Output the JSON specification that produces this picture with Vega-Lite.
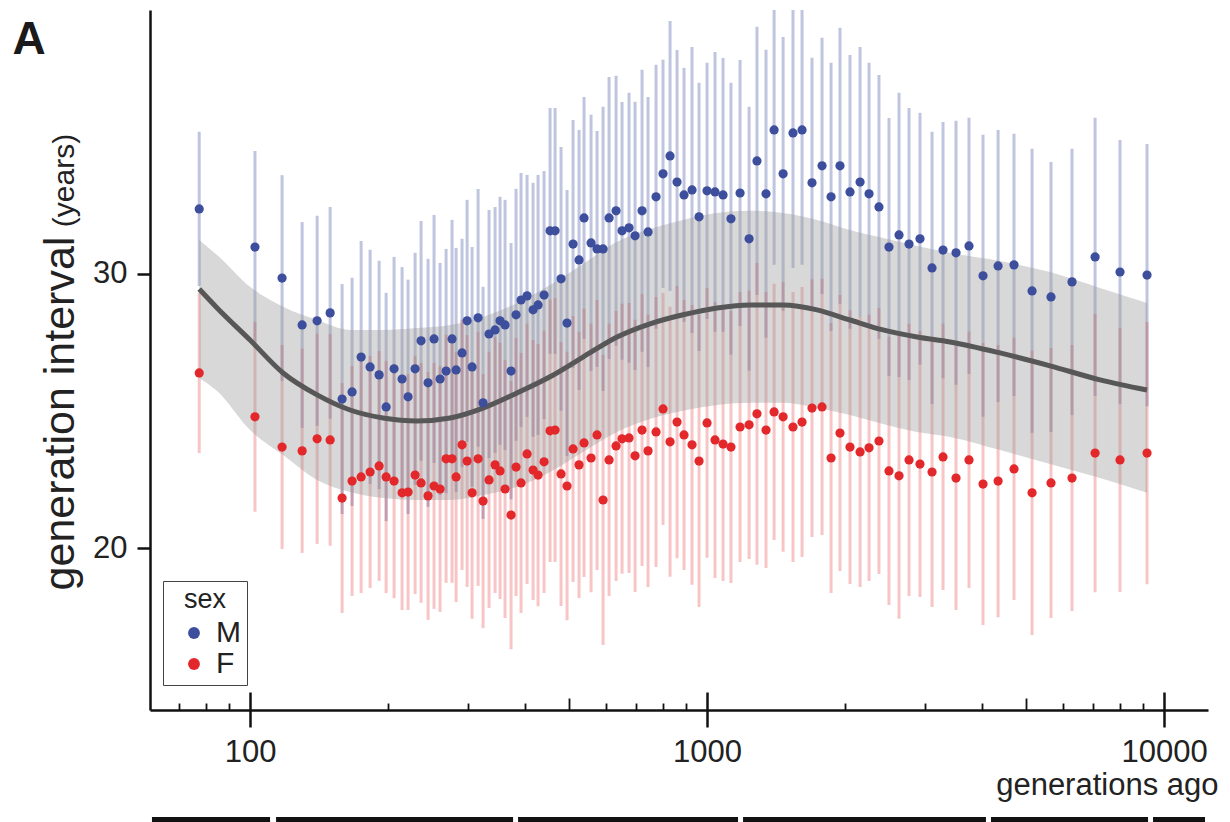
{
"$schema": "https://vega.github.io/schema/vega-lite/v6.json",
"width": 1058, "height": 700,
"autosize": {"type": "none"},
"padding": {"left": 150, "top": 10, "right": 22, "bottom": 112},
"background": "white",
"config": {"view": {"stroke": null}, "font": "Liberation Sans"},
"datasets": {
"pts": [
{"g":77.4,"sex":"M","v":32.37,"lo":29.56,"hi":35.18},
{"g":102.5,"sex":"M","v":30.98,"lo":27.48,"hi":34.48},
{"g":117.5,"sex":"M","v":29.85,"lo":26.10,"hi":33.60},
{"g":130.0,"sex":"M","v":28.14,"lo":24.39,"hi":31.89},
{"g":140.2,"sex":"M","v":28.29,"lo":24.46,"hi":32.12},
{"g":149.7,"sex":"M","v":28.58,"lo":24.72,"hi":32.44},
{"g":159.0,"sex":"M","v":25.44,"lo":21.25,"hi":29.63},
{"g":167.2,"sex":"M","v":25.70,"lo":21.54,"hi":29.86},
{"g":175.0,"sex":"M","v":26.97,"lo":22.74,"hi":31.20},
{"g":183.1,"sex":"M","v":26.61,"lo":22.34,"hi":30.88},
{"g":191.6,"sex":"M","v":26.32,"lo":22.16,"hi":30.48},
{"g":198.5,"sex":"M","v":25.15,"lo":20.99,"hi":29.31},
{"g":206.6,"sex":"M","v":26.54,"lo":22.46,"hi":30.62},
{"g":215.1,"sex":"M","v":26.17,"lo":22.09,"hi":30.25},
{"g":221.7,"sex":"M","v":25.52,"lo":21.25,"hi":29.79},
{"g":229.7,"sex":"M","v":26.54,"lo":22.31,"hi":30.77},
{"g":236.7,"sex":"M","v":27.56,"lo":23.19,"hi":31.93},
{"g":245.2,"sex":"M","v":26.03,"lo":21.51,"hi":30.55},
{"g":252.7,"sex":"M","v":27.63,"lo":23.11,"hi":32.15},
{"g":260.5,"sex":"M","v":26.17,"lo":21.94,"hi":30.40},
{"g":268.5,"sex":"M","v":26.46,"lo":22.01,"hi":30.91},
{"g":276.7,"sex":"M","v":27.63,"lo":23.29,"hi":31.97},
{"g":282.4,"sex":"M","v":26.50,"lo":22.05,"hi":30.95},
{"g":291.0,"sex":"M","v":27.12,"lo":22.96,"hi":31.28},
{"g":298.5,"sex":"M","v":28.29,"lo":23.88,"hi":32.70},
{"g":306.1,"sex":"M","v":26.61,"lo":22.24,"hi":30.98},
{"g":315.5,"sex":"M","v":28.40,"lo":23.70,"hi":33.10},
{"g":323.5,"sex":"M","v":25.30,"lo":21.07,"hi":29.53},
{"g":333.4,"sex":"M","v":27.81,"lo":23.29,"hi":32.33},
{"g":343.7,"sex":"M","v":27.96,"lo":23.48,"hi":32.44},
{"g":352.4,"sex":"M","v":28.29,"lo":23.77,"hi":32.81},
{"g":361.4,"sex":"M","v":28.14,"lo":23.58,"hi":32.70},
{"g":372.5,"sex":"M","v":26.46,"lo":21.79,"hi":31.13},
{"g":382.0,"sex":"M","v":28.51,"lo":23.92,"hi":33.10},
{"g":391.7,"sex":"M","v":29.05,"lo":24.42,"hi":33.68},
{"g":403.8,"sex":"M","v":29.20,"lo":24.79,"hi":33.61},
{"g":416.2,"sex":"M","v":28.69,"lo":24.06,"hi":33.32},
{"g":426.8,"sex":"M","v":28.87,"lo":24.13,"hi":33.61},
{"g":439.9,"sex":"M","v":29.23,"lo":24.71,"hi":33.75},
{"g":453.4,"sex":"M","v":31.57,"lo":27.09,"hi":36.05},
{"g":465.0,"sex":"M","v":31.57,"lo":27.09,"hi":36.05},
{"g":479.2,"sex":"M","v":29.82,"lo":25.01,"hi":34.63},
{"g":493.9,"sex":"M","v":28.21,"lo":23.36,"hi":33.06},
{"g":509.1,"sex":"M","v":31.09,"lo":26.57,"hi":35.61},
{"g":524.7,"sex":"M","v":30.51,"lo":25.77,"hi":35.25},
{"g":538.1,"sex":"M","v":32.04,"lo":27.63,"hi":36.45},
{"g":557.4,"sex":"M","v":31.13,"lo":26.46,"hi":35.80},
{"g":574.5,"sex":"M","v":30.91,"lo":26.61,"hi":35.21},
{"g":592.2,"sex":"M","v":30.91,"lo":25.73,"hi":36.09},
{"g":610.4,"sex":"M","v":32.04,"lo":26.90,"hi":37.18},
{"g":632.3,"sex":"M","v":32.30,"lo":27.38,"hi":37.22},
{"g":651.6,"sex":"M","v":31.57,"lo":26.87,"hi":36.27},
{"g":675.0,"sex":"M","v":31.68,"lo":26.76,"hi":36.60},
{"g":695.8,"sex":"M","v":31.39,"lo":26.50,"hi":36.28},
{"g":720.7,"sex":"M","v":32.30,"lo":27.16,"hi":37.44},
{"g":742.8,"sex":"M","v":31.53,"lo":26.61,"hi":36.45},
{"g":773.4,"sex":"M","v":32.81,"lo":28.00,"hi":37.62},
{"g":801.1,"sex":"M","v":33.65,"lo":29.49,"hi":37.81},
{"g":829.9,"sex":"M","v":34.30,"lo":29.38,"hi":39.22},
{"g":859.7,"sex":"M","v":33.35,"lo":28.54,"hi":38.16},
{"g":890.5,"sex":"M","v":32.88,"lo":28.25,"hi":37.51},
{"g":927.1,"sex":"M","v":33.06,"lo":27.85,"hi":38.27},
{"g":960.5,"sex":"M","v":32.08,"lo":27.19,"hi":36.97},
{"g":1000,"sex":"M","v":33.03,"lo":28.36,"hi":37.70},
{"g":1041,"sex":"M","v":32.99,"lo":27.89,"hi":38.09},
{"g":1084,"sex":"M","v":32.88,"lo":27.89,"hi":37.87},
{"g":1128,"sex":"M","v":32.01,"lo":27.05,"hi":36.97},
{"g":1181,"sex":"M","v":32.95,"lo":28.10,"hi":37.80},
{"g":1236,"sex":"M","v":31.28,"lo":26.47,"hi":36.09},
{"g":1286,"sex":"M","v":34.12,"lo":29.23,"hi":39.01},
{"g":1346,"sex":"M","v":32.92,"lo":27.67,"hi":38.17},
{"g":1402,"sex":"M","v":35.25,"lo":30.33,"hi":40.17},
{"g":1467,"sex":"M","v":33.65,"lo":28.66,"hi":38.64},
{"g":1542,"sex":"M","v":35.14,"lo":30.22,"hi":40.06},
{"g":1614,"sex":"M","v":35.25,"lo":30.33,"hi":40.17},
{"g":1697,"sex":"M","v":33.32,"lo":28.76,"hi":37.88},
{"g":1785,"sex":"M","v":33.94,"lo":29.27,"hi":38.61},
{"g":1868,"sex":"M","v":32.81,"lo":27.92,"hi":37.70},
{"g":1954,"sex":"M","v":33.94,"lo":28.91,"hi":38.97},
{"g":2055,"sex":"M","v":32.99,"lo":28.00,"hi":37.98},
{"g":2162,"sex":"M","v":33.35,"lo":28.43,"hi":38.27},
{"g":2262,"sex":"M","v":32.92,"lo":28.14,"hi":37.70},
{"g":2378,"sex":"M","v":32.44,"lo":27.63,"hi":37.25},
{"g":2501,"sex":"M","v":30.98,"lo":26.28,"hi":35.68},
{"g":2631,"sex":"M","v":31.42,"lo":26.24,"hi":36.60},
{"g":2767,"sex":"M","v":31.09,"lo":26.13,"hi":36.05},
{"g":2924,"sex":"M","v":31.28,"lo":26.69,"hi":35.87},
{"g":3107,"sex":"M","v":30.22,"lo":25.26,"hi":35.18},
{"g":3284,"sex":"M","v":30.87,"lo":26.20,"hi":35.54},
{"g":3506,"sex":"M","v":30.77,"lo":25.96,"hi":35.58},
{"g":3743,"sex":"M","v":31.02,"lo":26.35,"hi":35.69},
{"g":4017,"sex":"M","v":29.93,"lo":24.79,"hi":35.07},
{"g":4334,"sex":"M","v":30.29,"lo":25.33,"hi":35.25},
{"g":4696,"sex":"M","v":30.33,"lo":25.55,"hi":35.11},
{"g":5143,"sex":"M","v":29.38,"lo":24.20,"hi":34.56},
{"g":5658,"sex":"M","v":29.16,"lo":24.24,"hi":34.08},
{"g":6290,"sex":"M","v":29.71,"lo":24.86,"hi":34.56},
{"g":7065,"sex":"M","v":30.62,"lo":25.55,"hi":35.69},
{"g":8011,"sex":"M","v":30.07,"lo":25.26,"hi":34.88},
{"g":9179,"sex":"M","v":29.96,"lo":25.18,"hi":34.74},
{"g":77.4,"sex":"F","v":26.39,"lo":23.47,"hi":29.31},
{"g":102.5,"sex":"F","v":24.79,"lo":21.33,"hi":28.25},
{"g":117.5,"sex":"F","v":23.69,"lo":19.97,"hi":27.41},
{"g":130.0,"sex":"F","v":23.55,"lo":19.83,"hi":27.27},
{"g":140.2,"sex":"F","v":23.99,"lo":20.16,"hi":27.82},
{"g":149.7,"sex":"F","v":23.95,"lo":20.09,"hi":27.81},
{"g":159.0,"sex":"F","v":21.83,"lo":17.64,"hi":26.02},
{"g":167.2,"sex":"F","v":22.45,"lo":18.26,"hi":26.64},
{"g":175.0,"sex":"F","v":22.60,"lo":18.37,"hi":26.83},
{"g":183.1,"sex":"F","v":22.78,"lo":18.55,"hi":27.01},
{"g":191.6,"sex":"F","v":23.00,"lo":18.81,"hi":27.19},
{"g":198.5,"sex":"F","v":22.60,"lo":18.37,"hi":26.83},
{"g":206.6,"sex":"F","v":22.45,"lo":18.18,"hi":26.72},
{"g":215.1,"sex":"F","v":22.02,"lo":17.75,"hi":26.29},
{"g":221.7,"sex":"F","v":22.05,"lo":17.75,"hi":26.35},
{"g":229.7,"sex":"F","v":22.67,"lo":18.33,"hi":27.01},
{"g":236.7,"sex":"F","v":22.38,"lo":18.01,"hi":26.75},
{"g":245.2,"sex":"F","v":21.91,"lo":17.39,"hi":26.43},
{"g":252.7,"sex":"F","v":22.27,"lo":17.79,"hi":26.75},
{"g":260.5,"sex":"F","v":22.16,"lo":17.68,"hi":26.64},
{"g":268.5,"sex":"F","v":23.26,"lo":18.74,"hi":27.78},
{"g":276.7,"sex":"F","v":23.26,"lo":18.74,"hi":27.78},
{"g":282.4,"sex":"F","v":22.60,"lo":18.04,"hi":27.16},
{"g":291.0,"sex":"F","v":23.77,"lo":19.21,"hi":28.33},
{"g":298.5,"sex":"F","v":23.18,"lo":18.59,"hi":27.77},
{"g":306.1,"sex":"F","v":22.02,"lo":17.43,"hi":26.61},
{"g":315.5,"sex":"F","v":23.26,"lo":18.63,"hi":27.89},
{"g":323.5,"sex":"F","v":21.72,"lo":17.09,"hi":26.35},
{"g":333.4,"sex":"F","v":22.49,"lo":17.82,"hi":27.16},
{"g":343.7,"sex":"F","v":23.04,"lo":18.37,"hi":27.71},
{"g":352.4,"sex":"F","v":22.82,"lo":18.15,"hi":27.49},
{"g":361.4,"sex":"F","v":22.16,"lo":17.46,"hi":26.86},
{"g":372.5,"sex":"F","v":21.21,"lo":16.32,"hi":26.10},
{"g":382.0,"sex":"F","v":22.96,"lo":18.26,"hi":27.66},
{"g":391.7,"sex":"F","v":22.38,"lo":17.64,"hi":27.12},
{"g":403.8,"sex":"F","v":23.44,"lo":18.70,"hi":28.18},
{"g":416.2,"sex":"F","v":22.85,"lo":18.11,"hi":27.59},
{"g":426.8,"sex":"F","v":22.67,"lo":17.89,"hi":27.45},
{"g":439.9,"sex":"F","v":23.15,"lo":18.37,"hi":27.93},
{"g":453.4,"sex":"F","v":24.28,"lo":19.50,"hi":29.06},
{"g":465.0,"sex":"F","v":24.31,"lo":19.50,"hi":29.12},
{"g":479.2,"sex":"F","v":22.71,"lo":17.90,"hi":27.52},
{"g":493.9,"sex":"F","v":22.27,"lo":17.38,"hi":27.16},
{"g":509.1,"sex":"F","v":23.62,"lo":18.77,"hi":28.47},
{"g":524.7,"sex":"F","v":23.04,"lo":18.19,"hi":27.89},
{"g":538.1,"sex":"F","v":23.84,"lo":18.95,"hi":28.73},
{"g":557.4,"sex":"F","v":23.29,"lo":18.40,"hi":28.18},
{"g":574.5,"sex":"F","v":24.13,"lo":19.21,"hi":29.05},
{"g":592.2,"sex":"F","v":21.76,"lo":16.47,"hi":27.05},
{"g":610.4,"sex":"F","v":23.22,"lo":18.26,"hi":28.18},
{"g":632.3,"sex":"F","v":23.73,"lo":18.81,"hi":28.65},
{"g":651.6,"sex":"F","v":23.99,"lo":19.07,"hi":28.91},
{"g":675.0,"sex":"F","v":24.02,"lo":19.10,"hi":28.94},
{"g":695.8,"sex":"F","v":23.37,"lo":18.41,"hi":28.33},
{"g":720.7,"sex":"F","v":24.31,"lo":19.35,"hi":29.27},
{"g":742.8,"sex":"F","v":23.55,"lo":18.59,"hi":28.51},
{"g":773.4,"sex":"F","v":24.24,"lo":19.32,"hi":29.16},
{"g":801.1,"sex":"F","v":25.08,"lo":20.85,"hi":29.31},
{"g":829.9,"sex":"F","v":23.88,"lo":18.96,"hi":28.80},
{"g":859.7,"sex":"F","v":24.60,"lo":19.64,"hi":29.56},
{"g":890.5,"sex":"F","v":24.13,"lo":19.21,"hi":29.05},
{"g":927.1,"sex":"F","v":23.77,"lo":18.67,"hi":28.87},
{"g":960.5,"sex":"F","v":23.18,"lo":17.86,"hi":28.50},
{"g":1000,"sex":"F","v":24.57,"lo":19.65,"hi":29.49},
{"g":1041,"sex":"F","v":23.95,"lo":18.92,"hi":28.98},
{"g":1084,"sex":"F","v":23.80,"lo":18.81,"hi":28.79},
{"g":1128,"sex":"F","v":23.69,"lo":18.73,"hi":28.65},
{"g":1181,"sex":"F","v":24.42,"lo":19.50,"hi":29.34},
{"g":1236,"sex":"F","v":24.50,"lo":19.61,"hi":29.39},
{"g":1286,"sex":"F","v":24.90,"lo":19.40,"hi":30.40},
{"g":1346,"sex":"F","v":24.31,"lo":19.28,"hi":29.34},
{"g":1402,"sex":"F","v":24.97,"lo":20.30,"hi":29.64},
{"g":1467,"sex":"F","v":24.79,"lo":19.87,"hi":29.71},
{"g":1542,"sex":"F","v":24.42,"lo":19.50,"hi":29.34},
{"g":1614,"sex":"F","v":24.60,"lo":19.68,"hi":29.52},
{"g":1697,"sex":"F","v":25.11,"lo":20.41,"hi":29.81},
{"g":1785,"sex":"F","v":25.15,"lo":20.48,"hi":29.82},
{"g":1868,"sex":"F","v":23.29,"lo":18.37,"hi":28.21},
{"g":1954,"sex":"F","v":24.20,"lo":19.17,"hi":29.23},
{"g":2055,"sex":"F","v":23.69,"lo":18.70,"hi":28.68},
{"g":2162,"sex":"F","v":23.51,"lo":18.59,"hi":28.43},
{"g":2262,"sex":"F","v":23.66,"lo":18.81,"hi":28.51},
{"g":2378,"sex":"F","v":23.91,"lo":19.06,"hi":28.76},
{"g":2501,"sex":"F","v":22.82,"lo":17.93,"hi":27.71},
{"g":2631,"sex":"F","v":22.64,"lo":17.43,"hi":27.85},
{"g":2767,"sex":"F","v":23.22,"lo":18.26,"hi":28.18},
{"g":2924,"sex":"F","v":23.07,"lo":18.22,"hi":27.92},
{"g":3107,"sex":"F","v":22.78,"lo":17.86,"hi":27.70},
{"g":3284,"sex":"F","v":23.33,"lo":18.48,"hi":28.18},
{"g":3506,"sex":"F","v":22.56,"lo":17.75,"hi":27.37},
{"g":3743,"sex":"F","v":23.22,"lo":18.55,"hi":27.89},
{"g":4017,"sex":"F","v":22.34,"lo":17.20,"hi":27.48},
{"g":4334,"sex":"F","v":22.45,"lo":17.49,"hi":27.41},
{"g":4696,"sex":"F","v":22.89,"lo":18.11,"hi":27.67},
{"g":5143,"sex":"F","v":22.02,"lo":16.84,"hi":27.20},
{"g":5658,"sex":"F","v":22.38,"lo":17.46,"hi":27.30},
{"g":6290,"sex":"F","v":22.56,"lo":17.71,"hi":27.41},
{"g":7065,"sex":"F","v":23.47,"lo":18.40,"hi":28.54},
{"g":8011,"sex":"F","v":23.22,"lo":18.41,"hi":28.03},
{"g":9179,"sex":"F","v":23.47,"lo":18.69,"hi":28.25}
],
"smooth": [
{"g":77.4,"v":29.45,"lo":26.21,"hi":31.24},
{"g":84.7,"v":28.76,"lo":25.73,"hi":30.69},
{"g":100,"v":27.59,"lo":24.31,"hi":29.53},
{"g":118.1,"v":26.39,"lo":23.40,"hi":28.80},
{"g":140.2,"v":25.59,"lo":22.49,"hi":28.32},
{"g":165.5,"v":25.04,"lo":22.05,"hi":27.96},
{"g":195.5,"v":24.75,"lo":21.83,"hi":27.96},
{"g":232.0,"v":24.64,"lo":21.76,"hi":28.03},
{"g":274.0,"v":24.75,"lo":21.76,"hi":28.14},
{"g":323.5,"v":25.11,"lo":21.94,"hi":28.43},
{"g":383.9,"v":25.66,"lo":22.24,"hi":28.94},
{"g":453.4,"v":26.25,"lo":22.78,"hi":29.60},
{"g":535.4,"v":26.97,"lo":23.51,"hi":30.36},
{"g":635.5,"v":27.70,"lo":24.24,"hi":31.17},
{"g":750.3,"v":28.18,"lo":24.71,"hi":31.64},
{"g":886.1,"v":28.51,"lo":25.01,"hi":31.97},
{"g":1052,"v":28.76,"lo":25.22,"hi":32.22},
{"g":1242,"v":28.87,"lo":25.30,"hi":32.30},
{"g":1467,"v":28.87,"lo":25.30,"hi":32.22},
{"g":1741,"v":28.69,"lo":25.11,"hi":31.97},
{"g":2055,"v":28.32,"lo":24.86,"hi":31.60},
{"g":2427,"v":27.96,"lo":24.53,"hi":31.31},
{"g":2881,"v":27.70,"lo":24.24,"hi":31.02},
{"g":3402,"v":27.52,"lo":24.06,"hi":30.77},
{"g":4377,"v":27.12,"lo":23.58,"hi":30.47},
{"g":5630,"v":26.65,"lo":23.07,"hi":30.07},
{"g":7245,"v":26.14,"lo":22.56,"hi":29.49},
{"g":9179,"v":25.77,"lo":22.02,"hi":28.94}
],
"epochs": [
{"g1":61.0,"g2":110.6},
{"g1":114.0,"g2":376.3},
{"g1":385.9,"g2":1169},
{"g1":1199,"g2":4077},
{"g1":4182,"g2":9226},
{"g1":9461,"g2":12293}
]
},
"layer": [
{
"data": {"name": "pts"},
"mark": {"type": "rule", "strokeWidth": 3, "clip": true},
"encoding": {
"x": {"field": "g", "type": "quantitative",
"scale": {"type": "log", "domain": [60.4, 12480], "nice": false},
"axis": {"orient": "bottom", "values": [100, 1000, 10000], "format": "d", "grid": false,
"tickSize": 17, "tickWidth": 2.5, "tickColor": "#111", "domain": true, "domainColor": "#111", "domainWidth": 2.5,
"labelFontSize": 31, "labelColor": "#222", "labelPadding": 10, "labelFont": "Liberation Sans",
"title": "generations ago", "titleFontSize": 31, "titleFontWeight": "normal", "titleColor": "#222", "titleFont": "Liberation Sans",
"titleX": 1068, "titleY": 84, "titleAlign": "right", "titleBaseline": "alphabetic", "titleAnchor": null}},
"y": {"field": "lo", "type": "quantitative",
"scale": {"domain": [14.105, 39.62], "nice": false, "zero": false},
"axis": {"orient": "left", "values": [20, 30], "grid": false,
"tickSize": 13, "tickWidth": 2.5, "tickColor": "#111", "domain": true, "domainColor": "#111", "domainWidth": 2.5,
"labelFontSize": 31, "labelColor": "#222", "labelPadding": 10, "labelFont": "Liberation Sans",
"title": "generation interval", "titleFontSize": 43, "titleFontWeight": "normal", "titleColor": "#222", "titleFont": "Liberation Sans",
"titleAngle": -90, "titleX": -77, "titleY": 403, "titleAlign": "center", "titleBaseline": "alphabetic"}},
"y2": {"field": "hi"},
"stroke": {"condition": {"test": "datum.sex === 'M'", "value": "#3d4f9c"}, "value": "#e3282c"},
"strokeOpacity": {"condition": {"test": "datum.sex === 'M'", "value": 0.33}, "value": 0.27}
}
},
{
"data": {"name": "smooth"},
"mark": {"type": "area", "color": "#999999", "opacity": 0.38, "interpolate": "monotone"},
"encoding": {
"x": {"field": "g", "type": "quantitative", "scale": {"type": "log", "domain": [60.4, 12480], "nice": false},
"axis": {"orient": "bottom", "values": [100, 1000, 10000], "tickSize": -18, "tickWidth": 2.5, "tickColor": "#111", "labels": false, "domain": false, "grid": false, "title": null}},
"y": {"field": "lo", "type": "quantitative", "scale": {"domain": [14.105, 39.62], "nice": false, "zero": false},
"axis": {"orient": "left", "ticks": false, "labels": false, "domain": false, "grid": false,
"title": "(years)", "titleFontSize": 30, "titleFontWeight": "normal", "titleColor": "#222", "titleFont": "Liberation Sans",
"titleAngle": -90, "titleX": -77, "titleY": 170, "titleAlign": "center", "titleBaseline": "alphabetic"}},
"y2": {"field": "hi"}
}
},
{
"data": {"name": "smooth"},
"mark": {"type": "line", "color": "#575757", "strokeWidth": 5, "interpolate": "monotone"},
"encoding": {
"x": {"field": "g", "type": "quantitative", "scale": {"type": "log", "domain": [60.4, 12480], "nice": false},
"axis": {"orient": "bottom", "values": [500, 5000], "tickSize": -12, "tickWidth": 1.8, "tickColor": "#111", "labels": false, "domain": false, "grid": false, "title": null}},
"y": {"field": "v", "type": "quantitative", "scale": {"domain": [14.105, 39.62], "nice": false, "zero": false}, "axis": null}
}
},
{
"data": {"name": "pts"},
"mark": {"type": "circle", "size": 85, "opacity": 1},
"encoding": {
"x": {"field": "g", "type": "quantitative", "scale": {"type": "log", "domain": [60.4, 12480], "nice": false},
"axis": {"orient": "bottom", "values": [70, 80, 90, 200, 300, 400, 600, 700, 800, 900, 2000, 3000, 4000, 6000, 7000, 8000, 9000], "tickSize": -7, "tickWidth": 1.8, "tickColor": "#111", "labels": false, "domain": false, "grid": false, "title": null}},
"y": {"field": "v", "type": "quantitative", "scale": {"domain": [14.105, 39.62], "nice": false, "zero": false}, "axis": null},
"color": {"field": "sex", "type": "nominal", "scale": {"domain": ["M", "F"], "range": ["#3d4f9c", "#e3282c"]},
"legend": {"title": "sex", "orient": "none", "legendX": 13, "legendY": 571, "strokeColor": "#444", "fillColor": "white",
"padding": 6, "titleFontSize": 27, "titleFontWeight": "normal", "titleColor": "#222", "titleAnchor": "middle", "titlePadding": 4, "titleFont": "Liberation Sans",
"labelFontSize": 30, "labelColor": "#222", "labelFont": "Liberation Sans", "symbolType": "circle", "symbolSize": 140, "symbolOffset": 10, "labelOffset": 7, "rowPadding": 1, "symbolStrokeWidth": 0}}
}
},
{
"data": {"name": "epochs"},
"mark": {"type": "rule", "color": "#111", "strokeWidth": 6},
"encoding": {
"x": {"field": "g1", "type": "quantitative", "scale": {"type": "log", "domain": [60.4, 12480], "nice": false}, "axis": null},
"x2": {"field": "g2"},
"y": {"datum": 10.1, "type": "quantitative", "scale": {"domain": [14.105, 39.62], "nice": false, "zero": false},
"axis": {"orient": "left", "ticks": false, "labels": false, "domain": false, "grid": false,
"title": "A", "titleFontSize": 46, "titleFontWeight": "bold", "titleColor": "#1a1a1a", "titleFont": "Liberation Sans",
"titleAngle": 0, "titleX": -138, "titleY": 43, "titleAlign": "left", "titleBaseline": "alphabetic"}}
}
}
],
"resolve": {"axis": {"x": "independent", "y": "independent"}}
}
